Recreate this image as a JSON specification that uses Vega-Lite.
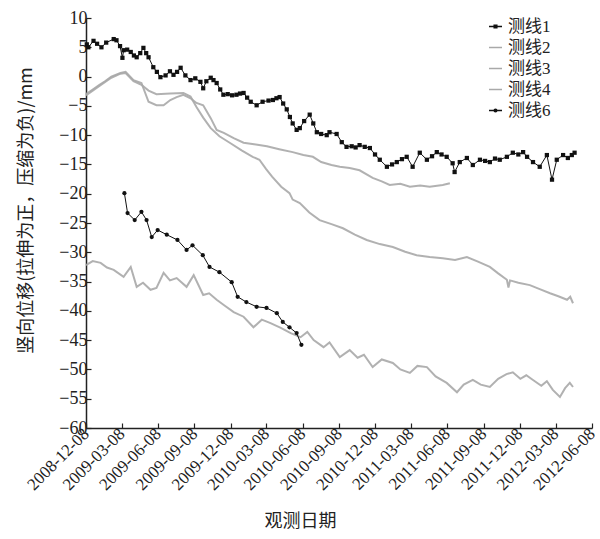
{
  "$schema": "https://vega.github.io/schema/vega-lite/v6.json",
  "width": 506,
  "height": 410,
  "autosize": {"type": "none"},
  "padding": {"left": 86, "top": 18, "right": 8, "bottom": 111},
  "background": "white",
  "config": {
    "view": {"stroke": null},
    "axis": {"domainColor": "#222", "tickColor": "#222", "labelColor": "#222", "titleColor": "#222", "grid": false, "labelFont": "Liberation Serif", "titleFont": "Noto Sans CJK SC", "titleFontWeight": "normal", "domainWidth": 1.5, "tickWidth": 1.2}
  },
  "datasets": {
    "d": [
      {"s":"测线1","d":"2008-12-10","v":5.5},{"s":"测线1","d":"2008-12-14","v":5.0},{"s":"测线1","d":"2008-12-27","v":6.1},{"s":"测线1","d":"2009-01-05","v":5.6},{"s":"测线1","d":"2009-01-16","v":5.0},{"s":"测线1","d":"2009-01-28","v":5.8},{"s":"测线1","d":"2009-02-16","v":6.4},{"s":"测线1","d":"2009-02-23","v":6.2},{"s":"测线1","d":"2009-03-04","v":5.2},{"s":"测线1","d":"2009-03-10","v":3.2},{"s":"测线1","d":"2009-03-13","v":4.5},{"s":"测线1","d":"2009-03-22","v":4.6},{"s":"测线1","d":"2009-03-31","v":4.2},{"s":"测线1","d":"2009-04-08","v":3.6},{"s":"测线1","d":"2009-04-15","v":3.3},{"s":"测线1","d":"2009-04-24","v":4.0},{"s":"测线1","d":"2009-05-02","v":4.9},{"s":"测线1","d":"2009-05-09","v":4.0},{"s":"测线1","d":"2009-05-15","v":3.3},{"s":"测线1","d":"2009-05-27","v":1.6},{"s":"测线1","d":"2009-06-05","v":0.8},{"s":"测线1","d":"2009-06-14","v":-0.1},{"s":"测线1","d":"2009-06-27","v":0.2},{"s":"测线1","d":"2009-07-08","v":0.9},{"s":"测线1","d":"2009-07-17","v":0.3},{"s":"测线1","d":"2009-07-26","v":0.8},{"s":"测线1","d":"2009-08-04","v":1.5},{"s":"测线1","d":"2009-08-16","v":0.2},{"s":"测线1","d":"2009-08-29","v":-0.6},{"s":"测线1","d":"2009-09-10","v":-0.3},{"s":"测线1","d":"2009-09-23","v":-0.9},{"s":"测线1","d":"2009-09-30","v":-2.0},{"s":"测线1","d":"2009-10-08","v":-0.8},{"s":"测线1","d":"2009-10-19","v":-0.2},{"s":"测线1","d":"2009-10-26","v":-0.6},{"s":"测线1","d":"2009-11-03","v":-1.1},{"s":"测线1","d":"2009-11-12","v":-2.2},{"s":"测线1","d":"2009-11-20","v":-3.1},{"s":"测线1","d":"2009-12-01","v":-3.0},{"s":"测线1","d":"2009-12-12","v":-3.2},{"s":"测线1","d":"2009-12-23","v":-3.1},{"s":"测线1","d":"2010-01-01","v":-2.9},{"s":"测线1","d":"2010-01-10","v":-2.8},{"s":"测线1","d":"2010-01-19","v":-3.6},{"s":"测线1","d":"2010-01-28","v":-4.3},{"s":"测线1","d":"2010-02-12","v":-4.9},{"s":"测线1","d":"2010-02-27","v":-4.3},{"s":"测线1","d":"2010-03-14","v":-4.1},{"s":"测线1","d":"2010-03-25","v":-4.0},{"s":"测线1","d":"2010-04-03","v":-3.7},{"s":"测线1","d":"2010-04-11","v":-3.5},{"s":"测线1","d":"2010-04-20","v":-4.6},{"s":"测线1","d":"2010-04-29","v":-5.6},{"s":"测线1","d":"2010-05-07","v":-6.9},{"s":"测线1","d":"2010-05-14","v":-8.0},{"s":"测线1","d":"2010-05-24","v":-9.1},{"s":"测线1","d":"2010-06-01","v":-8.8},{"s":"测线1","d":"2010-06-12","v":-7.6},{"s":"测线1","d":"2010-06-26","v":-6.5},{"s":"测线1","d":"2010-07-05","v":-8.0},{"s":"测线1","d":"2010-07-14","v":-9.5},{"s":"测线1","d":"2010-07-25","v":-9.8},{"s":"测线1","d":"2010-08-08","v":-10.0},{"s":"测线1","d":"2010-08-15","v":-9.5},{"s":"测线1","d":"2010-09-02","v":-9.8},{"s":"测线1","d":"2010-09-15","v":-11.2},{"s":"测线1","d":"2010-09-27","v":-12.0},{"s":"测线1","d":"2010-10-10","v":-11.9},{"s":"测线1","d":"2010-10-20","v":-12.1},{"s":"测线1","d":"2010-10-30","v":-11.7},{"s":"测线1","d":"2010-11-12","v":-12.0},{"s":"测线1","d":"2010-11-25","v":-12.2},{"s":"测线1","d":"2010-12-08","v":-13.3},{"s":"测线1","d":"2010-12-20","v":-14.2},{"s":"测线1","d":"2011-01-07","v":-15.4},{"s":"测线1","d":"2011-01-20","v":-15.0},{"s":"测线1","d":"2011-02-01","v":-14.6},{"s":"测线1","d":"2011-02-14","v":-14.1},{"s":"测线1","d":"2011-02-26","v":-13.7},{"s":"测线1","d":"2011-03-13","v":-15.4},{"s":"测线1","d":"2011-03-31","v":-13.0},{"s":"测线1","d":"2011-04-18","v":-14.2},{"s":"测线1","d":"2011-05-01","v":-13.6},{"s":"测线1","d":"2011-05-13","v":-12.9},{"s":"测线1","d":"2011-05-25","v":-13.3},{"s":"测线1","d":"2011-06-07","v":-13.7},{"s":"测线1","d":"2011-06-22","v":-14.8},{"s":"测线1","d":"2011-06-27","v":-16.3},{"s":"测线1","d":"2011-07-10","v":-14.6},{"s":"测线1","d":"2011-07-28","v":-13.9},{"s":"测线1","d":"2011-08-12","v":-15.1},{"s":"测线1","d":"2011-08-30","v":-14.2},{"s":"测线1","d":"2011-09-12","v":-14.4},{"s":"测线1","d":"2011-09-24","v":-14.6},{"s":"测线1","d":"2011-10-07","v":-14.0},{"s":"测线1","d":"2011-10-19","v":-14.2},{"s":"测线1","d":"2011-11-06","v":-13.7},{"s":"测线1","d":"2011-11-21","v":-13.0},{"s":"测线1","d":"2011-12-05","v":-13.3},{"s":"测线1","d":"2011-12-17","v":-12.9},{"s":"测线1","d":"2011-12-27","v":-13.7},{"s":"测线1","d":"2012-01-11","v":-14.6},{"s":"测线1","d":"2012-01-28","v":-15.4},{"s":"测线1","d":"2012-02-15","v":-13.4},{"s":"测线1","d":"2012-02-28","v":-17.6},{"s":"测线1","d":"2012-03-11","v":-14.2},{"s":"测线1","d":"2012-03-27","v":-13.4},{"s":"测线1","d":"2012-04-08","v":-13.9},{"s":"测线1","d":"2012-04-18","v":-13.4},{"s":"测线1","d":"2012-04-25","v":-13.0},
      {"s":"测线2","d":"2008-12-08","v":-3.0},{"s":"测线2","d":"2008-12-25","v":-2.2},{"s":"测线2","d":"2009-01-11","v":-1.4},{"s":"测线2","d":"2009-01-25","v":-0.8},{"s":"测线2","d":"2009-02-10","v":0.0},{"s":"测线2","d":"2009-03-05","v":0.6},{"s":"测线2","d":"2009-03-18","v":0.8},{"s":"测线2","d":"2009-04-07","v":-0.6},{"s":"测线2","d":"2009-04-27","v":-1.1},{"s":"测线2","d":"2009-05-15","v":-4.3},{"s":"测线2","d":"2009-06-04","v":-4.9},{"s":"测线2","d":"2009-06-22","v":-4.9},{"s":"测线2","d":"2009-07-09","v":-4.0},{"s":"测线2","d":"2009-07-25","v":-3.5},{"s":"测线2","d":"2009-08-11","v":-3.1},{"s":"测线2","d":"2009-08-29","v":-3.7},{"s":"测线2","d":"2009-09-13","v":-4.5},{"s":"测线2","d":"2009-09-30","v":-4.9},{"s":"测线2","d":"2009-10-19","v":-7.1},{"s":"测线2","d":"2009-11-03","v":-9.1},{"s":"测线2","d":"2009-11-21","v":-9.6},{"s":"测线2","d":"2009-12-16","v":-10.5},{"s":"测线2","d":"2010-01-10","v":-11.3},{"s":"测线2","d":"2010-02-10","v":-11.6},{"s":"测线2","d":"2010-03-10","v":-11.9},{"s":"测线2","d":"2010-04-10","v":-12.4},{"s":"测线2","d":"2010-05-14","v":-12.9},{"s":"测线2","d":"2010-06-10","v":-13.4},{"s":"测线2","d":"2010-07-04","v":-13.7},{"s":"测线2","d":"2010-07-25","v":-14.6},{"s":"测线2","d":"2010-08-20","v":-15.1},{"s":"测线2","d":"2010-09-10","v":-15.4},{"s":"测线2","d":"2010-10-05","v":-15.6},{"s":"测线2","d":"2010-10-30","v":-16.0},{"s":"测线2","d":"2010-12-02","v":-17.3},{"s":"测线2","d":"2010-12-25","v":-17.9},{"s":"测线2","d":"2011-01-14","v":-18.5},{"s":"测线2","d":"2011-02-10","v":-18.3},{"s":"测线2","d":"2011-03-06","v":-18.8},{"s":"测线2","d":"2011-04-01","v":-18.6},{"s":"测线2","d":"2011-04-25","v":-18.8},{"s":"测线2","d":"2011-05-28","v":-18.5},{"s":"测线2","d":"2011-06-15","v":-18.2},
      {"s":"测线3","d":"2008-12-08","v":-3.2},{"s":"测线3","d":"2009-01-11","v":-1.6},{"s":"测线3","d":"2009-02-10","v":-0.2},{"s":"测线3","d":"2009-03-05","v":0.5},{"s":"测线3","d":"2009-03-18","v":0.6},{"s":"测线3","d":"2009-04-07","v":-0.8},{"s":"测线3","d":"2009-04-27","v":-1.4},{"s":"测线3","d":"2009-05-15","v":-2.4},{"s":"测线3","d":"2009-06-04","v":-3.0},{"s":"测线3","d":"2009-07-09","v":-2.9},{"s":"测线3","d":"2009-08-11","v":-2.8},{"s":"测线3","d":"2009-08-29","v":-3.4},{"s":"测线3","d":"2009-09-13","v":-5.2},{"s":"测线3","d":"2009-09-30","v":-7.0},{"s":"测线3","d":"2009-10-19","v":-8.8},{"s":"测线3","d":"2009-11-10","v":-10.2},{"s":"测线3","d":"2009-12-06","v":-11.3},{"s":"测线3","d":"2010-01-05","v":-12.6},{"s":"测线3","d":"2010-02-02","v":-13.7},{"s":"测线3","d":"2010-02-19","v":-14.2},{"s":"测线3","d":"2010-03-08","v":-15.8},{"s":"测线3","d":"2010-03-23","v":-17.1},{"s":"测线3","d":"2010-04-15","v":-18.8},{"s":"测线3","d":"2010-05-06","v":-19.9},{"s":"测线3","d":"2010-05-14","v":-21.0},{"s":"测线3","d":"2010-06-01","v":-21.6},{"s":"测线3","d":"2010-06-25","v":-23.2},{"s":"测线3","d":"2010-07-21","v":-24.5},{"s":"测线3","d":"2010-08-20","v":-25.2},{"s":"测线3","d":"2010-09-18","v":-25.9},{"s":"测线3","d":"2010-10-18","v":-27.0},{"s":"测线3","d":"2010-11-17","v":-27.9},{"s":"测线3","d":"2010-12-20","v":-28.6},{"s":"测线3","d":"2011-01-22","v":-29.1},{"s":"测线3","d":"2011-02-22","v":-29.9},{"s":"测线3","d":"2011-03-23","v":-30.5},{"s":"测线3","d":"2011-04-25","v":-30.8},{"s":"测线3","d":"2011-05-28","v":-31.0},{"s":"测线3","d":"2011-06-28","v":-31.3},{"s":"测线3","d":"2011-07-28","v":-30.8},{"s":"测线3","d":"2011-08-25","v":-31.6},{"s":"测线3","d":"2011-09-24","v":-32.5},{"s":"测线3","d":"2011-10-15","v":-33.6},{"s":"测线3","d":"2011-11-06","v":-34.7},{"s":"测线3","d":"2011-11-10","v":-36.0},{"s":"测线3","d":"2011-11-14","v":-34.8},{"s":"测线3","d":"2011-12-05","v":-35.2},{"s":"测线3","d":"2012-01-03","v":-35.6},{"s":"测线3","d":"2012-01-28","v":-36.3},{"s":"测线3","d":"2012-02-23","v":-37.0},{"s":"测线3","d":"2012-03-15","v":-37.5},{"s":"测线3","d":"2012-04-06","v":-38.1},{"s":"测线3","d":"2012-04-14","v":-37.6},{"s":"测线3","d":"2012-04-21","v":-38.7},
      {"s":"测线4","d":"2008-12-08","v":-32.2},{"s":"测线4","d":"2008-12-25","v":-31.5},{"s":"测线4","d":"2009-01-14","v":-31.8},{"s":"测线4","d":"2009-01-30","v":-32.6},{"s":"测线4","d":"2009-02-16","v":-33.0},{"s":"测线4","d":"2009-03-13","v":-34.2},{"s":"测线4","d":"2009-03-31","v":-32.5},{"s":"测线4","d":"2009-04-15","v":-35.9},{"s":"测线4","d":"2009-05-01","v":-35.2},{"s":"测线4","d":"2009-05-20","v":-36.4},{"s":"测线4","d":"2009-06-04","v":-36.1},{"s":"测线4","d":"2009-06-22","v":-33.5},{"s":"测线4","d":"2009-07-08","v":-34.8},{"s":"测线4","d":"2009-07-25","v":-34.4},{"s":"测线4","d":"2009-08-19","v":-35.9},{"s":"测线4","d":"2009-09-06","v":-33.9},{"s":"测线4","d":"2009-09-30","v":-37.3},{"s":"测线4","d":"2009-10-15","v":-37.0},{"s":"测线4","d":"2009-11-03","v":-38.1},{"s":"测线4","d":"2009-11-21","v":-39.0},{"s":"测线4","d":"2009-12-16","v":-40.2},{"s":"测线4","d":"2010-01-10","v":-41.0},{"s":"测线4","d":"2010-02-04","v":-42.8},{"s":"测线4","d":"2010-02-25","v":-41.5},{"s":"测线4","d":"2010-03-19","v":-42.1},{"s":"测线4","d":"2010-04-14","v":-42.9},{"s":"测线4","d":"2010-05-09","v":-43.8},{"s":"测线4","d":"2010-06-03","v":-44.5},{"s":"测线4","d":"2010-06-20","v":-43.6},{"s":"测线4","d":"2010-07-06","v":-45.0},{"s":"测线4","d":"2010-07-31","v":-46.2},{"s":"测线4","d":"2010-08-15","v":-45.4},{"s":"测线4","d":"2010-09-10","v":-47.9},{"s":"测线4","d":"2010-10-05","v":-46.7},{"s":"测线4","d":"2010-10-25","v":-48.0},{"s":"测线4","d":"2010-11-10","v":-47.5},{"s":"测线4","d":"2010-12-02","v":-49.6},{"s":"测线4","d":"2010-12-25","v":-48.3},{"s":"测线4","d":"2011-01-22","v":-48.9},{"s":"测线4","d":"2011-02-10","v":-50.0},{"s":"测线4","d":"2011-03-06","v":-50.6},{"s":"测线4","d":"2011-03-25","v":-49.4},{"s":"测线4","d":"2011-04-18","v":-49.6},{"s":"测线4","d":"2011-05-10","v":-51.2},{"s":"测线4","d":"2011-06-07","v":-52.3},{"s":"测线4","d":"2011-07-03","v":-53.9},{"s":"测线4","d":"2011-07-20","v":-52.6},{"s":"测线4","d":"2011-08-12","v":-51.8},{"s":"测线4","d":"2011-09-01","v":-52.6},{"s":"测线4","d":"2011-09-24","v":-53.0},{"s":"测线4","d":"2011-10-15","v":-51.6},{"s":"测线4","d":"2011-11-05","v":-50.8},{"s":"测线4","d":"2011-11-21","v":-50.5},{"s":"测线4","d":"2011-12-10","v":-51.6},{"s":"测线4","d":"2011-12-25","v":-51.0},{"s":"测线4","d":"2012-01-11","v":-51.8},{"s":"测线4","d":"2012-02-01","v":-52.8},{"s":"测线4","d":"2012-02-15","v":-52.0},{"s":"测线4","d":"2012-03-01","v":-53.5},{"s":"测线4","d":"2012-03-19","v":-54.7},{"s":"测线4","d":"2012-04-01","v":-53.2},{"s":"测线4","d":"2012-04-13","v":-52.3},{"s":"测线4","d":"2012-04-21","v":-53.0},
      {"s":"测线6","d":"2009-03-15","v":-19.9},{"s":"测线6","d":"2009-03-23","v":-23.3},{"s":"测线6","d":"2009-04-10","v":-24.5},{"s":"测线6","d":"2009-04-27","v":-23.1},{"s":"测线6","d":"2009-05-10","v":-24.5},{"s":"测线6","d":"2009-05-23","v":-27.4},{"s":"测线6","d":"2009-06-07","v":-26.2},{"s":"测线6","d":"2009-06-30","v":-27.0},{"s":"测线6","d":"2009-07-27","v":-27.9},{"s":"测线6","d":"2009-08-19","v":-29.6},{"s":"测线6","d":"2009-09-03","v":-28.8},{"s":"测线6","d":"2009-09-29","v":-30.5},{"s":"测线6","d":"2009-10-16","v":-32.5},{"s":"测线6","d":"2009-11-10","v":-33.4},{"s":"测线6","d":"2009-12-11","v":-35.1},{"s":"测线6","d":"2009-12-26","v":-37.6},{"s":"测线6","d":"2010-01-17","v":-38.5},{"s":"测线6","d":"2010-02-12","v":-39.3},{"s":"测线6","d":"2010-03-09","v":-39.5},{"s":"测线6","d":"2010-04-04","v":-40.4},{"s":"测线6","d":"2010-04-19","v":-41.9},{"s":"测线6","d":"2010-05-06","v":-42.8},{"s":"测线6","d":"2010-05-24","v":-43.8},{"s":"测线6","d":"2010-06-05","v":-45.8}
    ]
  },
  "data": {"name": "d"},
  "encoding": {
    "x": {
      "field": "d", "type": "temporal",
      "scale": {"type": "utc", "domain": [{"year": 2008, "month": 12, "date": 8, "utc": true}, {"year": 2012, "month": 6, "date": 8, "utc": true}]},
      "axis": {
        "title": "观测日期", "titleFontSize": 18, "titleX": 214, "titleY": 84, "titleAlign": "center", "titleBaseline": "top",
        "labelExpr": "utcFormat(datum.value, '%Y-%m-%d')", "labelAngle": -45, "labelAlign": "right", "labelBaseline": "middle",
        "labelFont": "Liberation Serif", "labelFontSize": 17, "labelPadding": 8, "tickSize": -5,
        "labelOverlap": false, "labelFlush": false, "labelBound": false,
        "values": [
          {"year": 2008, "month": 12, "date": 8, "utc": true}, {"year": 2009, "month": 3, "date": 8, "utc": true}, {"year": 2009, "month": 6, "date": 8, "utc": true}, {"year": 2009, "month": 9, "date": 8, "utc": true}, {"year": 2009, "month": 12, "date": 8, "utc": true},
          {"year": 2010, "month": 3, "date": 8, "utc": true}, {"year": 2010, "month": 6, "date": 8, "utc": true}, {"year": 2010, "month": 9, "date": 8, "utc": true}, {"year": 2010, "month": 12, "date": 8, "utc": true},
          {"year": 2011, "month": 3, "date": 8, "utc": true}, {"year": 2011, "month": 6, "date": 8, "utc": true}, {"year": 2011, "month": 9, "date": 8, "utc": true}, {"year": 2011, "month": 12, "date": 8, "utc": true},
          {"year": 2012, "month": 3, "date": 8, "utc": true}, {"year": 2012, "month": 6, "date": 8, "utc": true}
        ]
      }
    },
    "y": {
      "field": "v", "type": "quantitative",
      "scale": {"domain": [-60, 10], "nice": false},
      "axis": {
        "title": "竖向位移(拉伸为正，压缩为负)/mm", "titleFontSize": 18, "titleX": -51, "titleY": 192, "titleAngle": -90, "titleAlign": "center", "titleBaseline": "bottom",
        "values": [10, 5, 0, -5, -10, -15, -20, -25, -30, -35, -40, -45, -50, -55, -60],
        "labelFont": "Liberation Serif", "labelFontSize": 18, "tickSize": -5, "labelPadding": 4, "labelFlush": false, "labelOverlap": false
      }
    },
    "color": {
      "field": "s", "type": "nominal",
      "scale": {"domain": ["测线1", "测线2", "测线3", "测线4", "测线6"], "range": ["#111111", "#a9a9a9", "#a9a9a9", "#a9a9a9", "#111111"]},
      "legend": {
        "title": null, "orient": "none", "legendX": 401, "legendY": 0,
        "labelFont": "Liberation Serif, Noto Sans CJK SC", "labelFontSize": 17, "labelColor": "#222",
        "symbolSize": 169, "rowPadding": 3, "labelOffset": 4,
        "encode": {
          "symbols": {
            "update": {
              "shape": {"signal": "datum.value == '测线1' ? 'M-1,0H1M-0.2,-0.2H0.2V0.2H-0.2Z' : datum.value == '测线6' ? 'M-1,0H1M-0.2,0A0.2,0.2,0,1,1,0.2,0A0.2,0.2,0,1,1,-0.2,0Z' : 'M-1,0H1'"},
              "fill": {"signal": "(datum.value == '测线1' || datum.value == '测线6') ? '#111111' : 'transparent'"},
              "stroke": {"signal": "(datum.value == '测线1' || datum.value == '测线6') ? '#111111' : '#a9a9a9'"},
              "strokeWidth": {"value": 1.5}
            }
          }
        }
      }
    }
  },
  "layer": [
    {
      "transform": [{"filter": "datum.s == '测线2' || datum.s == '测线3' || datum.s == '测线4'"}],
      "mark": {"type": "line", "strokeWidth": 2, "opacity": 0.9}
    },
    {
      "transform": [{"filter": "datum.s == '测线1' || datum.s == '测线6'"}],
      "mark": {"type": "line", "strokeWidth": 1}
    },
    {
      "transform": [{"filter": "datum.s == '测线1' || datum.s == '测线6'"}],
      "mark": {"type": "point", "filled": true, "size": 18, "opacity": 1},
      "encoding": {
        "shape": {"field": "s", "type": "nominal", "scale": {"domain": ["测线1", "测线6"], "range": ["square", "circle"]}, "legend": null}
      }
    }
  ]
}
